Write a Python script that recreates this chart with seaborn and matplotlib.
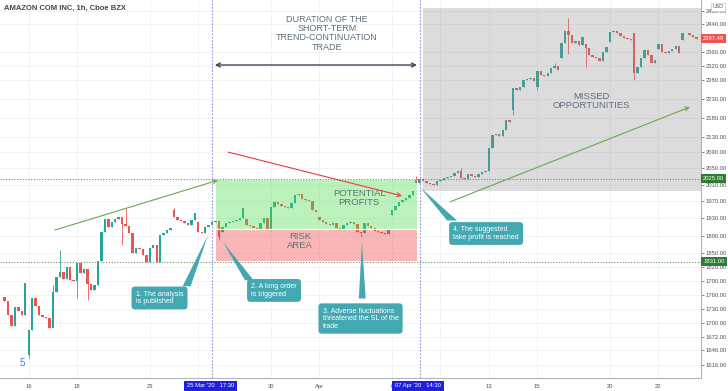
import numpy as np
import pandas as pd
import matplotlib
matplotlib.use("Agg")
import matplotlib.pyplot as plt
import matplotlib.transforms as mtransforms
from matplotlib.patches import Rectangle, Polygon
from matplotlib.ticker import FixedLocator, FixedFormatter, NullLocator
import seaborn as sns

sns.set_theme(style="white")
plt.rcParams['font.family'] = ['Liberation Sans', 'DejaVu Sans']

# hourly closes, 13 Mar - 23 Apr 2020, 7 bars per session (last session partial)
closes = [
    1746, 1717, 1694, 1733, 1725, 1717, 1786,   # Mar 13
    1686, 1752, 1737, 1717, 1714, 1711, 1690,   # Mar 16
    1765, 1797, 1808, 1793, 1819, 1791, 1789,   # Mar 17
    1828, 1806, 1815, 1782, 1769, 1780, 1833,   # Mar 18
    1898, 1928, 1910, 1921, 1928, 1933, 1917,   # Mar 19
    1912, 1896, 1851, 1862, 1860, 1846, 1830,   # Mar 20
    1862, 1868, 1830, 1891, 1896, 1903, 1907,   # Mar 23
    1933, 1926, 1923, 1919, 1914, 1926, 1942,   # Mar 24
    1898, 1896, 1910, 1914, 1921, 1923, 1886,   # Mar 25
    1910, 1919, 1921, 1923, 1926, 1930, 1954,   # Mar 26
    1914, 1912, 1907, 1905, 1919, 1930, 1903,   # Mar 27
    1956, 1968, 1963, 1959, 1956, 1954, 1966,   # Mar 30
    1985, 1987, 1975, 1973, 1970, 1949, 1944,   # Mar 31
    1926, 1921, 1917, 1914, 1919, 1907, 1903,   # Apr 1
    1914, 1919, 1921, 1917, 1898, 1896, 1919,   # Apr 2
    1912, 1907, 1901, 1898, 1896, 1893, 1903,   # Apr 3
    1949, 1959, 1968, 1973, 1978, 1985, 1995,   # Apr 6
    2014, 2024, 2019, 2014, 2011, 2009, 2019,   # Apr 7
    2021, 2026, 2028, 2031, 2038, 2043, 2026,   # Apr 8
    2025, 2036, 2031, 2028, 2036, 2041, 2043,   # Apr 9
    2101, 2134, 2137, 2133, 2147, 2173, 2168,   # Apr 13
    2259, 2254, 2262, 2281, 2284, 2286, 2278,   # Apr 14
    2306, 2295, 2293, 2300, 2314, 2320, 2309,   # Apr 15
    2385, 2420, 2409, 2385, 2391, 2380, 2403,   # Apr 16
    2371, 2351, 2346, 2343, 2334, 2359, 2374,   # Apr 17
    2417, 2420, 2414, 2405, 2400, 2397, 2394,   # Apr 20
    2300, 2317, 2343, 2365, 2351, 2328, 2337,   # Apr 21
    2383, 2359, 2356, 2362, 2368, 2377, 2356,   # Apr 22
    2414, 2416, 2408, 2402, 2397.49,            # Apr 23
]
# opens that differ from the previous close (session gaps)
gap_opens = {0: 1756, 7: 1636, 49: 1949, 56: 1921, 63: 1898, 70: 1928, 91: 1933,
             112: 1937, 119: 2021, 147: 2200, 154: 2262, 161: 2342, 168: 2383,
             175: 2388, 182: 2414, 189: 2368, 196: 2394}
wick_highs = {14: 1780, 16: 1857, 35: 1954, 49: 1954, 119: 2031, 132: 2050,
              159: 2328, 163: 2458}
wick_lows = {7: 1631, 14: 1702, 21: 1752, 24: 1748, 34: 1870, 62: 1880, 103: 1886,
             147: 2187, 154: 2253, 163: 2355, 168: 2316, 182: 2281}

# session starts; "25" and "8" sit under the highlighted time tags
day_ticks = [7, 21, 42, 56, 77, 91, 112, 126, 140, 154, 175, 189]
day_labels = ["16", "18", "23", "", "30", "Apr", "6", "", "13", "15", "20", "22"]
price_ticks = [2480, 2440, 2360, 2320, 2280, 2230, 2180, 2130, 2090, 2050, 2010, 1970,
               1930, 1890, 1850, 1820, 1790, 1760, 1730, 1700, 1672, 1646, 1616]

entry, target, stop = 1905, 2021, 1834
last_price = closes[-1]

GREEN = '#26a69a'
RED = '#ef5350'
TEAL = '#44a8b3'
TXT = '#5f6e7d'

df = pd.DataFrame({"close": closes})
df["open"] = df["close"].shift(1)
for i, v in gap_opens.items():
    df.loc[i, "open"] = v
df["high"] = df[["open", "close"]].max(axis=1)
df["low"] = df[["open", "close"]].min(axis=1)
for i, v in wick_highs.items():
    df.loc[i, "high"] = v
for i, v in wick_lows.items():
    df.loc[i, "low"] = v
df["up"] = df["close"] >= df["open"]

fig = plt.figure(figsize=(7.28, 3.91), dpi=100)
ax = fig.add_axes([0, 13 / 391, 701 / 728, 378 / 391])

# candles
colors = np.where(df["up"], GREEN, RED)
ax.vlines(df.index, df["low"], df["high"], colors=colors, lw=0.6, zorder=2)
body = (df["close"] - df["open"]).abs().clip(lower=1.2)
ax.bar(df.index, body, bottom=df[["open", "close"]].min(axis=1), width=0.7,
       color=colors, linewidth=0, zorder=2)

ax.set_yscale('log')
ax.set_xlim(-1.3, 201.3)
ax.set_ylim(1591.4, 2512.8)

# position tool boxes and shaded zone
ax.add_patch(Rectangle((61.1, entry), 58.1, target - entry, fc=(0.30, 0.87, 0.30, 0.38),
                       ec='none', zorder=3))
ax.add_patch(Rectangle((61.1, stop), 58.1, entry - stop, fc=(0.95, 0.25, 0.25, 0.38),
                       ec='none', zorder=3))
ax.plot([61.1, 119.2], [entry, entry], color='white', lw=0.8, zorder=3)
ax.add_patch(Rectangle((121.0, 1995), 81, 2488 - 1995, fc=(0.55, 0.55, 0.55, 0.3),
                       ec='none', zorder=3))

# reference levels
for lvl in (2025, 1831):
    ax.axhline(lvl, color='#6b8f5e', lw=0.8, ls=(0, (1, 1.5)), zorder=4)
for b in (60, 120):
    ax.axvline(b, color='#8a8fd6', lw=0.8, ls=(0, (1.5, 1.5)), zorder=4)

# trend arrows
def arrow(start, end, color, style='->', lw=0.8):
    ax.annotate('', xy=end, xytext=start, zorder=5,
                arrowprops=dict(arrowstyle=style, color=color, lw=lw,
                                shrinkA=0, shrinkB=0, mutation_scale=7))

arrow((14.6, 1903), (61.7, 2021), '#6aa84f')
arrow((64.6, 2091), (114.9, 1983), '#f23645')
arrow((128.8, 1969), (198.1, 2208), '#6aa84f')
arrow((60.8, 2323), (119.2, 2323), '#434651', style='<->', lw=1.0)

# labels on drawings
ax.text(93.2, 2414, "DURATION OF THE\nSHORT-TERM\nTREND-CONTINUATION\nTRADE", ha='center',
        va='center', color=TXT, fontsize=6.5, linespacing=1.05, zorder=6)
ax.text(102.5, 1979, "POTENTIAL\nPROFITS", ha='center', va='center', color=TXT,
        fontsize=6.8, linespacing=1.0, zorder=6)
ax.text(85.4, 1877, "RISK\nAREA", ha='center', va='center', color=TXT,
        fontsize=6.8, linespacing=1.0, zorder=6)
ax.text(169.5, 2225, "MISSED\nOPPORTUNITIES", ha='center', va='center', color=TXT,
        fontsize=6.8, linespacing=1.0, zorder=6)
ax.text(5, 1620, "5", ha='center', va='center', color='#2f7cf6', fontsize=7, zorder=6)

# callouts
def callout(text, pos, tip, base):
    ax.add_patch(Polygon([tip, base[0], base[1]], closed=True, fc=TEAL, ec='none', zorder=6))
    ax.text(pos[0], pos[1], text, ha='center', va='center', multialignment='left',
            color='white', fontsize=5, linespacing=1.1, zorder=7,
            bbox=dict(boxstyle='round,pad=0.6,rounding_size=0.5', fc=TEAL, ec='none'))

callout("1. The analysis\nis published", (44.8, 1753), (58.8, 1891),
        [(51.5, 1778), (53.8, 1778)])
callout("2. A long order\nis triggered", (77.9, 1769), (63.2, 1875),
        [(69.5, 1791), (72.0, 1791)])
callout("3. Adverse fluctuations\nthreatened the SL of the\ntrade", (102.9, 1710),
        (103.3, 1875), [(102.4, 1752), (104.4, 1752)])
callout("4. The suggested\ntake profit is reached", (139.2, 1895), (120.1, 2004),
        [(127.9, 1925), (130.8, 1925)])

# axes styling
ax.yaxis.tick_right()
ax.yaxis.set_major_locator(FixedLocator(price_ticks))
ax.yaxis.set_major_formatter(FixedFormatter([f"{v:.2f}" for v in price_ticks]))
ax.yaxis.set_minor_locator(NullLocator())
ax.set_xticks(day_ticks)
ax.set_xticklabels(day_labels)
ax.tick_params(axis='y', length=2, width=0.5, labelsize=4.2, pad=1.5, colors='#50535e',
               right=True)
ax.tick_params(axis='x', length=0, labelsize=4.2, pad=4, colors='#50535e')
ax.grid(True, color='#eef1f6', lw=0.6)
ax.set_axisbelow(True)
for s in ('left', 'top'):
    ax.spines[s].set_visible(False)
for s in ('right', 'bottom'):
    ax.spines[s].set_color('#b2b5be')
    ax.spines[s].set_linewidth(0.8)

# price tags on the scale
ty = mtransforms.blended_transform_factory(ax.transAxes, ax.transData)
for price, col in ((last_price, RED), (2025, '#2e7d32'), (1831, '#2e7d32')):
    ax.text(1.003, price, f"{price:.2f}", transform=ty, ha='left', va='center',
            fontsize=4.2, color='white', clip_on=False, zorder=8,
            bbox=dict(boxstyle='square,pad=0.35', fc=col, ec='none'))
ax.text(1.016, 0.982, "USD", transform=ax.transAxes, ha='left', va='center',
        fontsize=3.8, color='#50535e', zorder=8,
        bbox=dict(boxstyle='square,pad=0.3', fc='white', ec='#c8cad0', lw=0.5))

# time tags on the axis
tx = mtransforms.blended_transform_factory(ax.transData, ax.transAxes)
for b, lab in ((60, "25 Mar '20   17:30"), (120, "07 Apr '20   14:30")):
    ax.text(b - 0.5, -0.021, lab, transform=tx, ha='center', va='center', fontsize=4.2,
            color='white', clip_on=False, zorder=8,
            bbox=dict(boxstyle='square,pad=0.45', fc='#2020e0', ec='none'))

ax.text(0.006, 0.979, "AMAZON COM INC, 1h, Cboe BZX", transform=ax.transAxes,
        ha='left', va='center', fontsize=5.5, color='#434651', fontweight='bold', zorder=8)

fig.savefig("out.png", dpi=100)
